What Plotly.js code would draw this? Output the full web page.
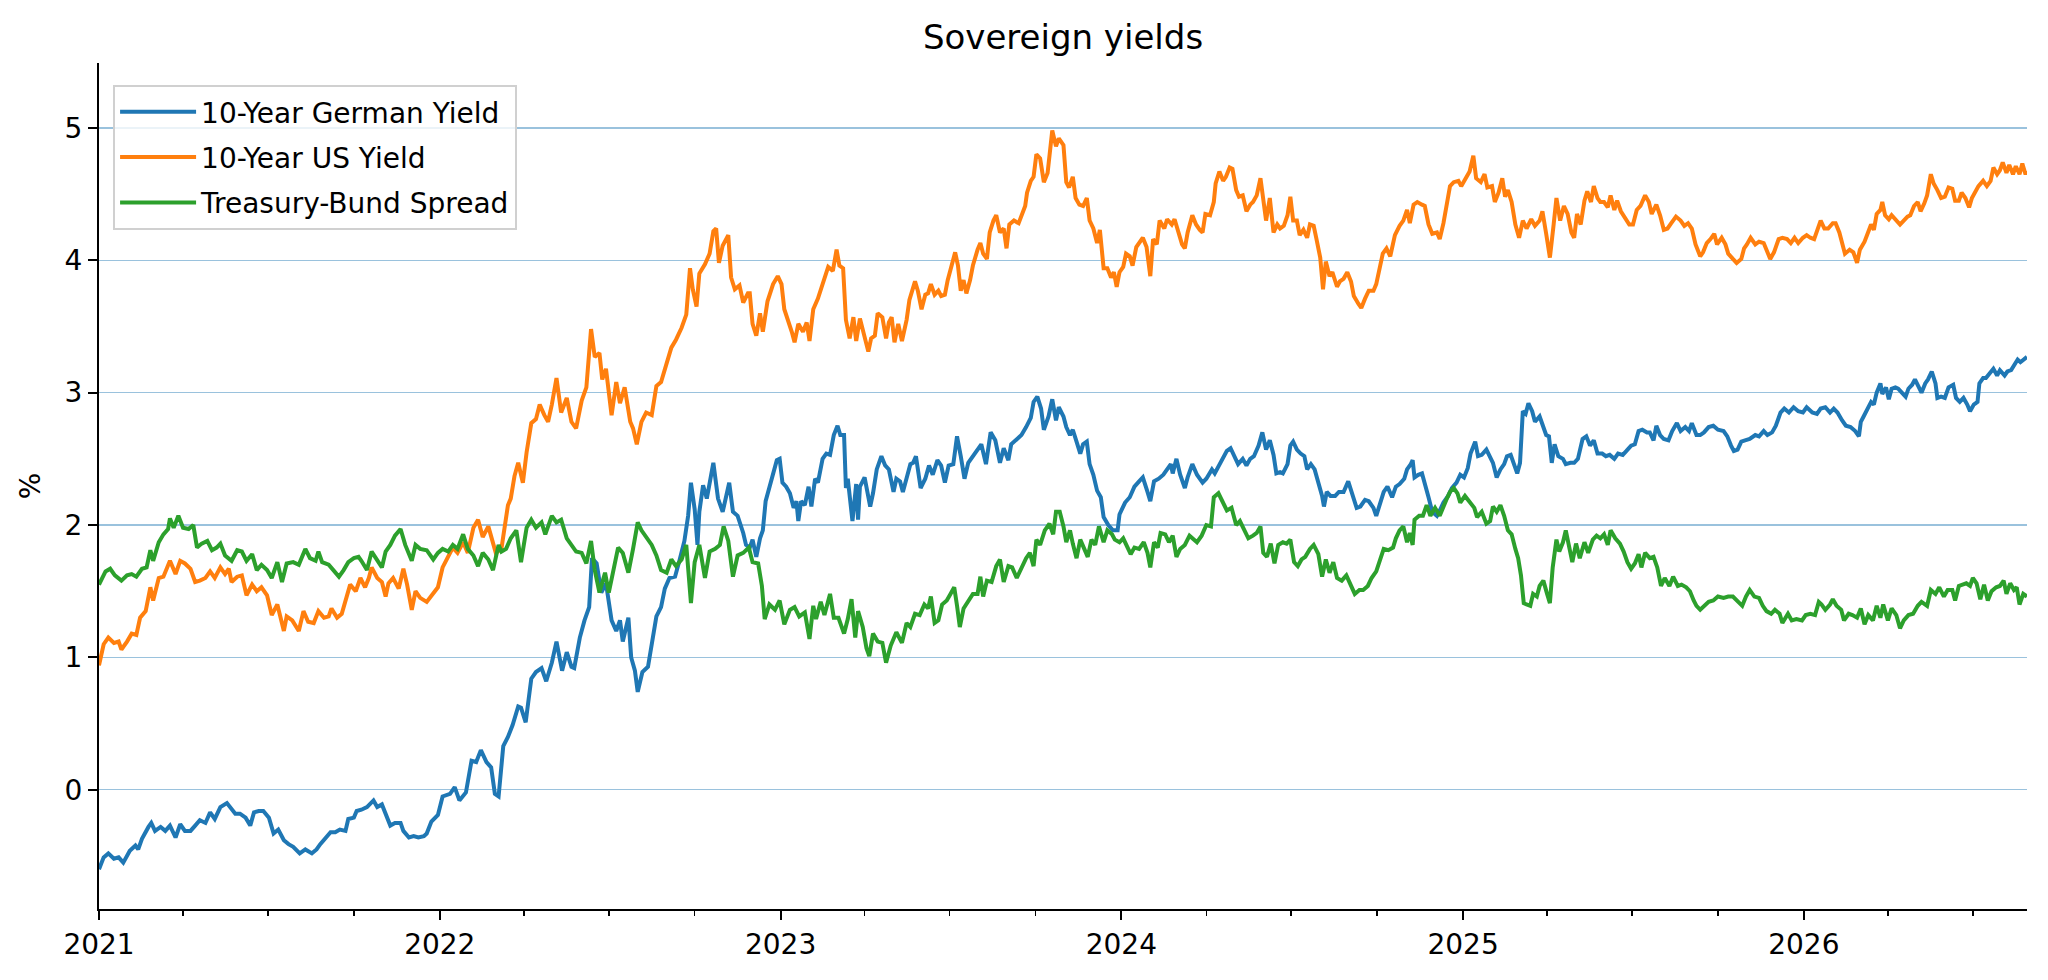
<!DOCTYPE html>
<html>
<head>
<meta charset="utf-8">
<script src="https://cdn.plot.ly/plotly-3.0.1.min.js"></script>
<style>
  html, body { margin: 0; padding: 0; background: #ffffff; }
  #chart { width: 2048px; height: 980px; }
</style>
</head>
<body>
<div id="chart"></div>
<script>
// time in years since 2021-01-01, values in percent
var germanTime = [
  0,0.015,0.029,0.044,0.059,0.073,0.093,0.108,0.117,0.127,0.147,0.156,0.166,0.181,0.196,0.210,0.225,0.240,0.254,0.269,0.283,0.298,0.313,0.327,0.342,0.357,0.376,0.386,0.401,0.415,0.430,0.445,0.455,0.469,0.484,0.499,0.513,0.528,0.543,0.557,0.572,0.591,0.606,0.626,0.640,0.650,0.665,0.679,0.694,0.709,0.723,0.733,0.748,0.758,0.772,0.787,0.806,0.816,0.831,0.846,0.855,0.870,0.885,0.894,0.909,0.924,0.938,0.953,
  0.961,0.976,0.995,1.010,1.030,1.044,1.059,1.078,1.093,1.108,1.122,1.137,1.152,1.161,1.174,1.186,1.201,1.215,1.230,1.240,1.253,1.269,1.284,1.298,1.313,1.328,1.344,1.360,1.372,1.386,1.396,1.411,1.426,1.438,1.448,1.460,1.474,1.489,1.504,1.518,1.528,1.538,1.553,1.562,1.572,1.582,1.595,1.611,1.621,1.636,1.650,1.660,1.675,1.690,1.704,1.719,1.729,1.738,1.748,1.755,1.763,1.773,1.784,1.802,1.817,1.831,1.849,1.861,1.875,1.890,1.900,
  1.910,1.919,1.929,1.939,1.949,1.957,1.968,1.978,1.988,1.998,2.006,2.017,2.027,2.037,2.047,2.051,2.061,2.071,2.081,2.091,2.100,2.110,2.123,2.133,2.144,2.156,2.166,2.176,2.185,2.191,2.198,2.211,2.221,2.227,2.234,2.247,2.262,2.271,2.283,2.296,2.306,2.318,2.330,2.340,2.350,2.359,2.369,2.381,2.389,2.398,2.410,2.423,2.435,2.447,2.459,2.470,2.482,2.494,2.506,2.518,2.528,2.540,2.550,2.565,2.580,2.589,2.602,2.616,2.631,2.643,2.655,2.667,2.677,2.692,2.707,2.721,2.733,2.743,2.753,2.765,2.773,2.785,2.796,2.807,2.817,
  2.829,2.839,2.848,2.858,2.868,2.878,2.887,2.897,2.907,2.917,2.927,2.938,2.948,2.961,2.975,2.987,2.995,3.010,3.024,3.039,3.052,3.063,3.075,3.085,3.095,3.110,3.122,3.134,3.144,3.151,3.161,3.173,3.186,3.195,3.208,3.220,3.237,3.249,3.264,3.274,3.286,3.298,3.310,3.320,3.329,3.342,3.355,3.367,3.376,3.388,3.401,3.413,3.423,3.435,3.445,3.453,3.464,3.474,3.486,3.494,3.503,3.515,3.525,3.535,3.545,3.554,3.567,3.577,3.587,3.593,3.601,3.613,3.626,3.638,3.652,3.665,3.678,3.689,3.701,3.714,3.726,3.738,3.748,
  3.768,3.779,3.792,3.805,3.816,3.828,3.838,3.848,3.854,3.860,3.870,3.880,3.890,3.899,3.912,3.924,3.934,3.945,3.958,3.968,3.981,3.992,4.004,4.014,4.024,4.036,4.046,4.056,4.069,4.078,4.090,4.100,4.112,4.121,4.131,4.141,4.151,4.160,4.168,4.176,4.186,4.194,4.203,4.212,4.225,4.235,4.245,4.254,4.261,4.271,4.281,4.293,4.303,4.315,4.327,4.339,4.352,4.364,4.374,4.384,4.395,4.408,4.421,4.432,4.444,4.457,4.469,4.481,4.493,4.506,4.515,4.528,4.540,4.550,4.559,4.567,4.579,4.591,4.604,4.616,4.628,4.640,4.652,4.665,4.672,4.685,
  4.696,4.708,4.721,4.736,4.750,4.765,4.777,4.786,4.796,4.806,4.816,4.828,4.843,4.858,4.870,4.882,4.894,4.907,4.919,4.931,4.943,4.956,4.970,4.985,4.998,5.009,5.024,5.039,5.050,5.063,5.076,5.088,5.099,5.112,5.125,5.138,5.151,5.161,5.168,5.177,5.187,5.197,5.205,5.215,5.224,5.232,5.242,5.249,5.259,5.268,5.278,5.288,5.298,5.308,5.317,5.327,5.337,5.347,5.356,5.366,5.376,5.386,5.393,5.402,5.415,5.425,5.438,5.447,5.459,5.469,5.479,5.488,5.498,5.510,5.516,5.526,5.535,5.545,5.557,5.567,5.577,5.588,5.598,5.608,5.617,5.627,5.637,5.647,5.656];
var germanYield = [
  -0.60,-0.51,-0.48,-0.52,-0.51,-0.55,-0.46,-0.42,-0.45,-0.37,-0.28,-0.25,-0.31,-0.28,-0.31,-0.27,-0.36,-0.26,-0.31,-0.31,-0.27,-0.23,-0.25,-0.17,-0.22,-0.13,-0.10,-0.13,-0.18,-0.18,-0.21,-0.27,-0.17,-0.16,-0.16,-0.21,-0.33,-0.30,-0.38,-0.41,-0.43,-0.48,-0.45,-0.48,-0.45,-0.41,-0.37,-0.32,-0.32,-0.30,-0.31,-0.22,-0.21,-0.16,-0.15,-0.13,-0.08,-0.13,-0.11,-0.23,-0.27,-0.25,-0.25,-0.31,-0.36,-0.35,-0.36,-0.35,
  -0.33,-0.24,-0.19,-0.05,-0.03,0.02,-0.08,-0.02,0.22,0.21,0.30,0.21,0.17,-0.03,-0.05,0.33,0.40,0.49,0.63,0.62,0.51,0.84,0.89,0.92,0.82,0.96,1.12,0.90,1.04,0.93,0.92,1.15,1.28,1.38,1.75,1.71,1.49,1.56,1.28,1.20,1.28,1.12,1.30,1.00,0.90,0.74,0.89,0.93,1.09,1.31,1.38,1.52,1.60,1.61,1.74,1.88,2.07,2.32,2.12,1.85,2.10,2.30,2.20,2.47,2.20,2.10,2.32,2.10,2.07,1.94,1.85,
  1.83,1.89,1.76,1.90,1.96,2.18,2.28,2.40,2.49,2.50,2.32,2.29,2.24,2.13,2.18,2.03,2.18,2.15,2.29,2.14,2.35,2.32,2.50,2.54,2.53,2.68,2.75,2.68,2.68,2.28,2.35,2.03,2.31,2.04,2.29,2.36,2.14,2.24,2.42,2.52,2.45,2.42,2.25,2.35,2.33,2.25,2.35,2.46,2.47,2.52,2.28,2.35,2.45,2.38,2.49,2.45,2.32,2.45,2.46,2.67,2.52,2.35,2.47,2.52,2.57,2.61,2.46,2.70,2.64,2.47,2.58,2.49,2.61,2.65,2.68,2.74,2.81,2.93,2.97,2.88,2.72,2.82,2.95,2.79,2.89,
  2.82,2.74,2.68,2.72,2.63,2.54,2.61,2.63,2.46,2.38,2.26,2.21,2.06,2.00,1.96,1.96,2.08,2.17,2.21,2.29,2.33,2.36,2.25,2.18,2.33,2.35,2.38,2.42,2.46,2.39,2.50,2.38,2.28,2.36,2.46,2.38,2.32,2.35,2.42,2.39,2.46,2.50,2.56,2.58,2.53,2.46,2.50,2.45,2.50,2.52,2.60,2.70,2.57,2.64,2.53,2.39,2.40,2.39,2.46,2.60,2.63,2.57,2.54,2.52,2.42,2.46,2.42,2.32,2.22,2.14,2.25,2.22,2.22,2.25,2.25,2.33,2.21,2.13,2.14,2.19,2.18,2.13,2.07,
  2.25,2.29,2.21,2.29,2.31,2.35,2.42,2.46,2.49,2.36,2.38,2.39,2.32,2.21,2.10,2.07,2.11,2.17,2.22,2.28,2.32,2.38,2.36,2.43,2.54,2.63,2.52,2.53,2.57,2.52,2.47,2.36,2.42,2.46,2.52,2.53,2.46,2.39,2.47,2.86,2.84,2.92,2.86,2.78,2.82,2.75,2.68,2.67,2.47,2.61,2.52,2.50,2.46,2.47,2.47,2.50,2.65,2.67,2.60,2.64,2.54,2.54,2.52,2.53,2.50,2.54,2.53,2.56,2.60,2.61,2.71,2.72,2.70,2.70,2.64,2.75,2.68,2.65,2.64,2.71,2.77,2.71,2.74,2.71,2.77,2.68,
  2.68,2.70,2.74,2.75,2.72,2.71,2.67,2.60,2.56,2.57,2.63,2.64,2.65,2.68,2.67,2.71,2.68,2.70,2.75,2.85,2.88,2.85,2.89,2.86,2.85,2.89,2.85,2.84,2.88,2.89,2.85,2.88,2.85,2.79,2.75,2.74,2.71,2.67,2.78,2.82,2.88,2.93,2.91,3.00,3.07,2.99,3.04,2.95,3.03,3.04,3.03,3.00,2.97,3.03,3.06,3.10,3.04,3.00,3.07,3.10,3.16,3.07,2.96,2.97,2.96,3.04,3.06,2.96,2.93,2.96,2.91,2.86,2.91,2.93,3.07,3.11,3.11,3.14,3.18,3.13,3.17,3.13,3.16,3.17,3.21,3.25,3.23,3.25,3.27];

var usTime = [
  0,0.015,0.029,0.044,0.059,0.068,0.083,0.098,0.112,0.122,0.137,0.152,0.161,0.176,0.191,0.205,0.210,0.225,0.240,0.254,0.269,0.284,0.298,0.313,0.328,0.342,0.357,0.372,0.381,0.391,0.406,0.420,0.435,0.450,0.464,0.479,0.494,0.508,0.523,0.543,0.552,0.567,0.587,0.601,0.616,0.631,0.645,0.660,0.675,0.684,0.699,0.714,0.728,0.738,0.753,0.768,0.782,0.792,0.802,0.816,0.831,0.841,0.851,0.865,0.880,0.895,0.904,0.919,0.929,0.944,
  0.961,0.981,0.995,1.010,1.025,1.039,1.054,1.069,1.083,1.098,1.113,1.127,1.142,1.152,1.166,1.181,1.191,1.201,1.210,1.220,1.230,1.245,1.255,1.269,1.282,1.294,1.308,1.318,1.328,1.343,1.357,1.372,1.386,1.401,1.416,1.430,1.445,1.455,1.470,1.477,1.489,1.504,1.517,1.528,1.543,1.558,1.567,1.579,1.592,1.607,1.621,1.636,1.650,1.665,1.680,1.694,1.709,1.724,1.734,1.743,1.753,1.763,1.777,1.792,1.802,1.810,1.820,1.831,1.846,1.856,1.866,1.880,1.890,1.905,
  1.910,1.919,1.929,1.939,1.949,1.963,1.978,1.993,2.003,2.012,2.022,2.032,2.042,2.051,2.066,2.076,2.085,2.095,2.110,2.125,2.139,2.154,2.164,2.173,2.183,2.191,2.203,2.213,2.222,2.234,2.247,2.257,2.266,2.276,2.286,2.299,2.309,2.318,2.325,2.335,2.345,2.357,2.369,2.379,2.394,2.403,2.413,2.423,2.433,2.442,2.452,2.462,2.472,2.482,2.491,2.501,2.511,2.521,2.528,2.537,2.545,2.555,2.565,2.577,2.586,2.594,2.604,2.614,2.623,2.633,2.643,2.653,2.662,2.672,2.684,2.697,2.706,2.716,2.723,2.733,2.743,2.750,2.760,2.773,2.782,2.790,2.798,2.807,2.817,
  2.829,2.837,2.846,2.856,2.866,2.876,2.887,2.897,2.907,2.917,2.927,2.936,2.946,2.958,2.968,2.977,2.985,2.995,3.005,3.013,3.024,3.032,3.042,3.054,3.063,3.073,3.083,3.093,3.103,3.112,3.124,3.134,3.147,3.156,3.166,3.176,3.186,3.195,3.208,3.218,3.228,3.237,3.247,3.259,3.269,3.277,3.286,3.298,3.306,3.316,3.325,3.335,3.345,3.355,3.367,3.376,3.386,3.396,3.406,3.415,3.425,3.435,3.445,3.457,3.466,3.476,3.486,3.494,3.503,3.513,3.523,3.533,3.543,3.552,3.562,3.572,3.582,3.590,3.599,3.609,3.619,3.631,3.640,3.652,3.662,3.672,3.681,3.694,3.704,3.714,3.726,3.738,3.746,
  3.766,3.777,3.789,3.802,3.814,3.826,3.836,3.846,3.855,3.867,3.880,3.890,3.899,3.912,3.924,3.934,3.945,3.953,3.963,3.975,3.987,3.997,4.010,4.020,4.031,4.041,4.053,4.063,4.073,4.085,4.095,4.105,4.115,4.124,4.134,4.144,4.154,4.166,4.176,4.188,4.200,4.212,4.225,4.235,4.245,4.256,4.266,4.276,4.286,4.297,4.307,4.320,4.327,4.336,4.346,4.356,4.366,4.376,4.385,4.395,4.405,4.415,4.425,4.434,4.444,4.454,4.464,4.476,4.489,4.499,4.511,4.522,4.535,4.545,4.555,4.567,4.579,4.589,4.600,4.613,4.626,4.638,4.649,4.662,4.672,4.682,
  4.696,4.706,4.716,4.728,4.737,4.747,4.760,4.770,4.780,4.792,4.804,4.816,4.826,4.835,4.845,4.858,4.870,4.882,4.892,4.902,4.914,4.926,4.939,4.951,4.961,4.972,4.985,4.998,5.009,5.021,5.031,5.041,5.050,5.060,5.073,5.086,5.095,5.105,5.115,5.122,5.135,5.146,5.158,5.166,5.178,5.187,5.197,5.205,5.215,5.224,5.232,5.239,5.249,5.259,5.273,5.283,5.295,5.305,5.314,5.324,5.334,5.344,5.354,5.363,5.373,5.381,5.391,5.402,5.415,5.425,5.435,5.444,5.454,5.464,5.474,5.484,5.493,5.503,5.513,5.526,5.537,5.547,5.557,5.567,5.577,5.584,5.594,5.604,5.614,5.623,5.633,5.640,5.650,5.656];
var usYield = [
  0.94,1.10,1.15,1.11,1.12,1.06,1.12,1.18,1.17,1.30,1.35,1.53,1.43,1.60,1.61,1.70,1.73,1.63,1.73,1.71,1.67,1.57,1.58,1.60,1.65,1.60,1.68,1.63,1.67,1.57,1.61,1.62,1.47,1.55,1.50,1.53,1.47,1.32,1.40,1.20,1.31,1.28,1.20,1.35,1.27,1.26,1.35,1.30,1.31,1.37,1.30,1.33,1.45,1.55,1.50,1.60,1.53,1.60,1.68,1.60,1.57,1.46,1.56,1.60,1.52,1.67,1.55,1.36,1.50,1.45,
  1.42,1.49,1.53,1.68,1.77,1.83,1.79,1.87,1.79,1.98,2.04,1.91,1.99,1.91,1.79,1.82,2.01,2.15,2.20,2.37,2.47,2.32,2.55,2.77,2.80,2.91,2.83,2.78,2.91,3.11,2.85,2.96,2.78,2.73,2.94,3.04,3.48,3.27,3.30,3.10,3.18,2.83,3.08,2.92,3.04,2.78,2.73,2.61,2.78,2.85,2.83,3.05,3.08,3.21,3.34,3.40,3.49,3.59,3.94,3.78,3.65,3.90,3.97,4.05,4.22,4.24,3.98,4.11,4.19,3.87,3.78,3.81,3.68,3.75,
  3.75,3.52,3.43,3.60,3.46,3.69,3.82,3.88,3.82,3.63,3.55,3.46,3.38,3.52,3.46,3.53,3.39,3.63,3.71,3.85,3.95,3.92,4.08,3.96,3.94,3.55,3.41,3.57,3.39,3.56,3.43,3.31,3.41,3.43,3.60,3.57,3.41,3.53,3.57,3.38,3.52,3.39,3.55,3.70,3.84,3.77,3.63,3.74,3.75,3.82,3.74,3.77,3.73,3.74,3.85,3.96,4.06,3.96,3.77,3.85,3.75,3.85,3.96,4.08,4.13,4.05,4.01,4.21,4.30,4.34,4.21,4.24,4.09,4.27,4.30,4.28,4.34,4.41,4.51,4.60,4.63,4.80,4.77,4.59,4.66,4.83,4.98,4.86,4.92,
  4.87,4.59,4.55,4.63,4.47,4.42,4.41,4.47,4.30,4.24,4.13,4.23,3.94,3.94,3.87,3.91,3.80,3.91,3.95,4.05,4.03,3.96,4.10,4.14,4.17,4.10,3.88,4.16,4.12,4.30,4.24,4.31,4.27,4.31,4.21,4.12,4.09,4.21,4.34,4.27,4.23,4.21,4.35,4.34,4.44,4.58,4.67,4.60,4.63,4.70,4.69,4.53,4.48,4.49,4.37,4.42,4.44,4.49,4.62,4.44,4.30,4.47,4.21,4.27,4.24,4.26,4.34,4.48,4.30,4.30,4.19,4.23,4.17,4.27,4.26,4.16,4.02,3.78,3.99,3.88,3.91,3.80,3.84,3.86,3.91,3.84,3.73,3.67,3.64,3.71,3.77,3.77,3.82,
  4.05,4.09,4.03,4.19,4.26,4.30,4.38,4.28,4.42,4.44,4.42,4.41,4.27,4.20,4.21,4.16,4.28,4.40,4.56,4.59,4.60,4.56,4.62,4.67,4.79,4.62,4.59,4.65,4.55,4.56,4.44,4.51,4.62,4.48,4.53,4.44,4.27,4.17,4.30,4.24,4.31,4.26,4.30,4.37,4.20,4.02,4.27,4.47,4.30,4.41,4.35,4.21,4.17,4.35,4.27,4.45,4.52,4.44,4.56,4.47,4.44,4.44,4.40,4.49,4.38,4.45,4.37,4.33,4.27,4.27,4.38,4.41,4.49,4.44,4.35,4.42,4.34,4.23,4.24,4.28,4.33,4.30,4.26,4.28,4.24,4.12,
  4.03,4.06,4.13,4.16,4.20,4.12,4.17,4.12,4.05,4.01,3.98,4.01,4.09,4.12,4.17,4.12,4.14,4.13,4.08,4.01,4.06,4.16,4.17,4.16,4.13,4.17,4.13,4.17,4.19,4.17,4.16,4.24,4.30,4.24,4.24,4.28,4.28,4.21,4.12,4.05,4.08,4.06,3.98,4.08,4.14,4.19,4.27,4.23,4.35,4.38,4.44,4.34,4.31,4.34,4.30,4.27,4.30,4.33,4.34,4.41,4.44,4.37,4.43,4.49,4.65,4.58,4.53,4.47,4.48,4.55,4.54,4.45,4.45,4.51,4.47,4.40,4.47,4.51,4.56,4.60,4.56,4.60,4.70,4.65,4.68,4.74,4.66,4.72,4.65,4.71,4.65,4.73,4.66,4.66];

var spreadTime = [
  0,0.020,0.034,0.049,0.068,0.083,0.098,0.112,0.127,0.142,0.152,0.161,0.176,0.191,0.205,0.210,0.220,0.235,0.249,0.264,0.279,0.288,0.303,0.318,0.332,0.347,0.357,0.372,0.391,0.406,0.420,0.435,0.450,0.464,0.479,0.494,0.508,0.523,0.538,0.552,0.572,0.587,0.606,0.621,0.636,0.645,0.655,0.675,0.689,0.704,0.719,0.733,0.748,0.763,0.772,0.787,0.802,0.816,0.831,0.841,0.856,0.870,0.885,0.900,0.919,0.929,0.944,
  0.961,0.981,0.995,1.010,1.025,1.039,1.054,1.069,1.083,1.098,1.113,1.127,1.142,1.157,1.172,1.181,1.196,1.210,1.225,1.240,1.255,1.269,1.284,1.298,1.311,1.328,1.343,1.357,1.372,1.386,1.401,1.416,1.430,1.445,1.455,1.470,1.484,1.497,1.509,1.523,1.538,1.553,1.567,1.582,1.592,1.607,1.621,1.636,1.650,1.665,1.680,1.694,1.709,1.724,1.738,1.748,1.763,1.777,1.792,1.807,1.822,1.834,1.846,1.861,1.875,1.890,
  1.907,1.919,1.934,1.944,1.954,1.968,1.983,1.998,2.012,2.027,2.042,2.056,2.071,2.084,2.095,2.105,2.118,2.130,2.144,2.157,2.171,2.185,2.198,2.209,2.218,2.227,2.240,2.252,2.260,2.271,2.286,2.299,2.310,2.322,2.340,2.355,2.369,2.381,2.394,2.408,2.421,2.433,2.442,2.452,2.462,2.475,2.486,2.498,2.508,2.518,2.526,2.537,2.550,2.565,2.577,2.586,2.594,2.606,2.619,2.633,2.643,2.655,2.667,2.680,2.694,2.706,2.719,2.731,2.741,2.751,2.762,2.775,2.788,2.799,2.809,
  2.819,2.829,2.839,2.848,2.858,2.868,2.878,2.889,2.902,2.912,2.922,2.934,2.946,2.958,2.971,2.980,2.993,3.005,3.015,3.026,3.039,3.052,3.065,3.075,3.085,3.095,3.105,3.114,3.127,3.140,3.151,3.161,3.173,3.186,3.198,3.210,3.222,3.234,3.249,3.261,3.271,3.283,3.298,3.310,3.323,3.335,3.347,3.359,3.371,3.384,3.396,3.406,3.415,3.427,3.437,3.447,3.459,3.472,3.484,3.496,3.505,3.518,3.528,3.540,3.552,3.564,3.577,3.587,3.599,3.611,3.621,3.633,3.645,3.658,3.670,3.684,3.697,3.709,3.721,3.733,3.746,
  3.769,3.782,3.795,3.805,3.816,3.826,3.836,3.844,3.854,3.860,3.873,3.885,3.895,3.906,3.919,3.932,3.941,3.953,3.963,3.973,3.984,3.994,4.007,4.020,4.033,4.043,4.056,4.069,4.080,4.090,4.100,4.112,4.121,4.134,4.144,4.154,4.164,4.170,4.178,4.188,4.198,4.207,4.217,4.227,4.237,4.247,4.256,4.264,4.274,4.284,4.293,4.303,4.313,4.323,4.334,4.344,4.356,4.369,4.381,4.393,4.405,4.415,4.425,4.434,4.447,4.460,4.471,4.483,4.493,4.506,4.515,4.525,4.535,4.548,4.559,4.571,4.581,4.594,4.606,4.618,4.630,4.642,4.655,4.667,4.677,4.687,
  4.696,4.708,4.721,4.736,4.750,4.765,4.779,4.792,4.804,4.819,4.831,4.843,4.855,4.868,4.880,4.892,4.904,4.916,4.929,4.939,4.953,4.965,4.980,4.995,5.007,5.021,5.034,5.044,5.053,5.063,5.076,5.086,5.097,5.109,5.119,5.132,5.144,5.156,5.168,5.180,5.190,5.203,5.215,5.226,5.234,5.246,5.259,5.271,5.283,5.295,5.308,5.322,5.334,5.347,5.361,5.373,5.386,5.399,5.410,5.422,5.435,5.444,5.454,5.464,5.477,5.488,5.496,5.508,5.518,5.528,5.539,5.552,5.565,5.577,5.586,5.596,5.606,5.616,5.625,5.633,5.643,5.656];
var spreadValue = [
  1.55,1.65,1.67,1.62,1.58,1.62,1.63,1.61,1.67,1.68,1.81,1.73,1.87,1.93,1.97,2.05,1.98,2.07,1.98,1.97,2.00,1.83,1.86,1.88,1.81,1.83,1.86,1.77,1.73,1.81,1.80,1.73,1.78,1.66,1.70,1.66,1.60,1.72,1.57,1.71,1.72,1.70,1.82,1.75,1.73,1.80,1.72,1.70,1.66,1.61,1.66,1.72,1.75,1.76,1.73,1.66,1.80,1.73,1.68,1.80,1.85,1.92,1.97,1.85,1.73,1.85,1.82,
  1.81,1.74,1.79,1.82,1.80,1.85,1.82,1.93,1.82,1.77,1.69,1.79,1.74,1.66,1.85,1.80,1.82,1.90,1.96,1.72,1.98,2.04,1.98,2.02,1.93,2.07,2.02,2.04,1.90,1.85,1.80,1.79,1.71,1.88,1.66,1.49,1.64,1.49,1.68,1.83,1.79,1.64,1.82,2.02,1.96,1.91,1.85,1.77,1.66,1.64,1.74,1.69,1.74,1.85,1.41,1.72,1.85,1.60,1.80,1.82,1.85,1.99,1.88,1.61,1.77,1.79,
  1.83,1.72,1.71,1.54,1.29,1.40,1.36,1.43,1.25,1.36,1.38,1.31,1.34,1.14,1.39,1.29,1.42,1.32,1.48,1.30,1.30,1.18,1.29,1.44,1.15,1.35,1.23,1.07,1.01,1.18,1.12,1.11,0.96,1.09,1.19,1.11,1.26,1.23,1.33,1.32,1.40,1.37,1.46,1.26,1.28,1.40,1.43,1.48,1.53,1.39,1.23,1.37,1.43,1.48,1.48,1.61,1.46,1.58,1.57,1.69,1.74,1.57,1.69,1.68,1.60,1.68,1.75,1.79,1.69,1.89,1.85,1.96,2.01,1.93,2.10,
  2.10,1.99,1.87,1.96,1.86,1.75,1.89,1.82,1.76,1.89,1.85,1.99,1.87,1.96,1.93,1.89,1.87,1.90,1.83,1.78,1.83,1.82,1.87,1.79,1.68,1.87,1.83,1.94,1.93,1.87,1.92,1.76,1.82,1.85,1.92,1.89,1.87,1.92,2.00,1.99,2.21,2.24,2.17,2.11,2.13,2.00,2.03,1.97,1.90,1.92,1.94,1.99,1.79,1.76,1.86,1.71,1.85,1.87,1.86,1.89,1.72,1.69,1.74,1.76,1.82,1.85,1.78,1.61,1.74,1.64,1.72,1.60,1.58,1.62,1.55,1.48,1.51,1.51,1.54,1.60,1.65,
  1.82,1.81,1.83,1.90,1.96,1.99,1.87,1.94,1.85,2.04,2.07,2.07,2.15,2.07,2.13,2.07,2.13,2.19,2.25,2.28,2.24,2.17,2.22,2.17,2.13,2.06,2.10,2.01,2.03,2.14,2.10,2.15,2.07,1.96,1.93,1.82,1.75,1.62,1.41,1.40,1.39,1.48,1.46,1.54,1.58,1.48,1.41,1.68,1.89,1.80,1.87,1.96,1.83,1.72,1.86,1.75,1.87,1.79,1.89,1.92,1.90,1.93,1.85,1.96,1.90,1.86,1.80,1.72,1.67,1.71,1.78,1.68,1.79,1.75,1.76,1.68,1.54,1.60,1.54,1.61,1.54,1.55,1.53,1.50,1.43,1.39,
  1.36,1.39,1.42,1.43,1.46,1.45,1.46,1.46,1.43,1.39,1.46,1.51,1.46,1.45,1.39,1.35,1.33,1.36,1.33,1.26,1.33,1.28,1.29,1.28,1.32,1.33,1.32,1.42,1.40,1.36,1.40,1.44,1.39,1.36,1.28,1.33,1.32,1.30,1.37,1.25,1.32,1.28,1.39,1.30,1.40,1.28,1.37,1.32,1.22,1.28,1.32,1.33,1.39,1.42,1.39,1.51,1.48,1.53,1.46,1.51,1.51,1.43,1.54,1.55,1.56,1.54,1.60,1.56,1.44,1.55,1.43,1.50,1.53,1.54,1.58,1.48,1.56,1.51,1.53,1.40,1.48,1.46];

var seriesNames = ['10-Year German Yield', '10-Year US Yield', 'Treasury-Bund Spread'];
var seriesColors = ['#1f77b4', '#ff7f0e', '#2ca02c'];

function toDate(t) {
    var ms = Date.UTC(2021, 0, 1) + t * 365.25 * 86400000;
    return new Date(ms).toISOString().slice(0, 10);
}

var times = [germanTime, usTime, spreadTime];
var values = [germanYield, usYield, spreadValue];

var traces = [];
for (var i = 0; i < 3; i++) {
    traces.push({
        x: times[i].map(toDate),
        y: values[i],
        type: 'scatter',
        mode: 'lines',
        name: seriesNames[i],
        legendgroup: 'g' + i,
        line: { color: seriesColors[i], width: 4 }
    });
}

var layout = {
    width: 2048,
    height: 980,
    margin: { l: 99, r: 21, t: 63, b: 71 },
    paper_bgcolor: '#ffffff',
    plot_bgcolor: '#ffffff',
    font: { family: 'DejaVu Sans, sans-serif', size: 28, color: '#000000' },
    title: {
        text: 'Sovereign yields',
        font: { size: 34, color: '#000000' },
        x: 0.5, xref: 'paper',
        y: 1 - 37 / 980, yref: 'container', yanchor: 'middle'
    },
    showlegend: true,
    legend: {
        x: 0.0073, y: 0.974, xanchor: 'left', yanchor: 'top',
        traceorder: 'grouped',
        tracegroupgap: 6,
        itemwidth: 76,
        bgcolor: 'rgba(255,255,255,0.8)',
        bordercolor: '#d0d0d0',
        borderwidth: 2,
        font: { size: 28, color: '#000000' }
    },
    xaxis: {
        type: 'date',
        range: ['2021-01-01', '2026-08-28'],
        tick0: '2021-01-01',
        dtick: 'M12',
        tickformat: '%Y',
        ticks: 'outside',
        ticklen: 9,
        tickwidth: 2,
        tickcolor: '#000000',
        minor: { dtick: 'M3', tick0: '2021-01-01', ticks: 'outside', ticklen: 5, tickwidth: 1.6, tickcolor: '#000000', showgrid: false },
        showline: true,
        linecolor: '#000000',
        linewidth: 2,
        showgrid: false,
        zeroline: false,
        tickfont: { size: 28 }
    },
    yaxis: {
        range: [-0.9, 5.49],
        tickvals: [0, 1, 2, 3, 4, 5],
        ticks: 'outside',
        ticklen: 9,
        tickwidth: 2,
        tickcolor: '#000000',
        showline: true,
        linecolor: '#000000',
        linewidth: 2,
        showgrid: true,
        gridcolor: 'rgba(31,119,180,0.45)',
        gridwidth: 1.3,
        zeroline: false,
        tickfont: { size: 28 },
        title: { text: '%', font: { size: 28 }, standoff: 16 }
    }
};

Plotly.newPlot('chart', traces, layout, { displayModeBar: false, staticPlot: true });
</script>
</body>
</html>
